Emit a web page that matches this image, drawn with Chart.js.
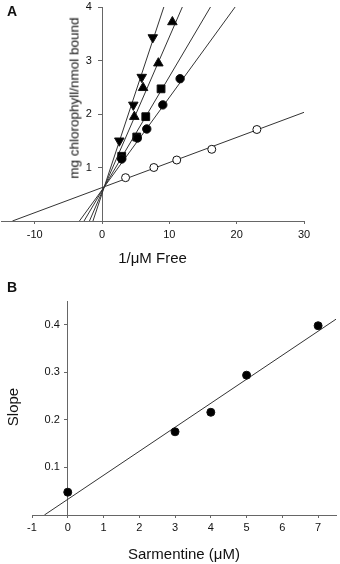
<!doctype html>
<html lang="en">

<head>
    <meta charset="utf-8">
    <title>Binding plots</title>
    <script src="https://cdn.jsdelivr.net/npm/chart.js"></script>
    <style>
        body { margin: 0; background: #fff; }
        #wrap { position: relative; width: 340px; height: 564px; font-family: "Liberation Sans", Arial, sans-serif; }
        #wrap canvas { position: absolute; left: 0; }
        .lbl { position: absolute; color: #111; white-space: nowrap; transform: translate(-50%, -50%); }
        .rot { transform: translate(-50%, -50%) rotate(-90deg); }
    </style>
</head>

<body>
    <div id="wrap">
        <canvas id="chartA" width="340" height="278" style="top:0"></canvas>
        <canvas id="chartB" width="340" height="284" style="top:280px"></canvas>
        <div class="lbl" style="left:12px;top:11px;font-weight:bold;font-size:14px">A</div>
        <div class="lbl" style="left:12px;top:287px;font-weight:bold;font-size:14px">B</div>
        <div class="lbl rot" style="left:74px;top:98px;font-size:13.5px">mg chlorophyll/nmol bound</div>
        <div class="lbl rot" style="left:12px;top:407px;font-size:15px">Slope</div>
    </div>
</body>
<script>
    // panel A : double reciprocal plot
    const ctrlX = [3.5, 7.7, 11.1, 16.3, 23.0];
    const ctrlY = [0.81, 1.0, 1.14, 1.34, 1.71];
    const circX = [2.93, 5.25, 6.65, 9.03, 11.6];
    const circY = [1.16, 1.55, 1.72, 2.17, 2.66];
    const sqX = [2.93, 5.16, 6.5, 8.77];
    const sqY = [1.21, 1.57, 1.95, 2.47];
    const upX = [4.8, 6.1, 8.37, 10.45];
    const upY = [1.95, 2.49, 2.95, 3.72];
    const downX = [2.57, 4.65, 5.9, 7.54];
    const downY = [1.5, 2.17, 2.69, 3.43];
    // fitted lines: [slope, intercept] for control, circles, squares, up, down
    const fitSlopeA = [0.0469, 0.173, 0.213, 0.29, 0.38];
    const fitIcptA = [0.624, 0.58, 0.568, 0.54, 0.51];
    const xTicksA = [-10, 0, 10, 20, 30];
    const yTicksA = [0, 1, 2, 3, 4];

    // panel B : secondary plot
    const sarm = [0, 3, 4, 5, 7];
    const slopeVals = [0.048, 0.175, 0.216, 0.294, 0.398];
    const fitB = [0.0505, 0.033];
    const xTicksB = [-1, 0, 1, 2, 3, 4, 5, 6, 7];
    const yTicksB = [0, 0.1, 0.2, 0.3, 0.4];

    const axisCol = '#666';
    const lineCol = '#333';
    const tickFont = { family: '"Liberation Sans", Arial, sans-serif', size: 11 };
    const titleFont = { family: '"Liberation Sans", Arial, sans-serif', size: 15 };

    let pts = (xs, ys) => xs.map((x, i) => ({ x: x, y: ys[i] }));

    let fitLine = (m, b, xmin, xmax, ymax) => {
        let x0 = Math.max(xmin, -b / m);
        let x1 = Math.min(xmax, (ymax - b) / m);
        return {
            type: 'line', data: [{ x: x0, y: m * x0 + b }, { x: x1, y: m * x1 + b }],
            borderColor: lineCol, borderWidth: 1, pointRadius: 0, showLine: true, order: 10
        };
    }

    let marks = (xs, ys, style, r, fill, rot) => ({
        data: pts(xs, ys), showLine: false, pointStyle: style, pointRadius: r,
        pointRotation: rot || 0, backgroundColor: fill, borderColor: '#111', borderWidth: 1, order: 1,
        clip: false
    });

    let setTicks = arr => scale => { scale.ticks = arr.map(v => ({ value: v })); };
    // keep the layout padding in charge of the plot box
    let flatX = h => s => { s.height = h; s.paddingLeft = 0; s.paddingRight = 0; };
    let flatY = s => { s.width = 0; s.paddingTop = 0; s.paddingBottom = 0; };

    const linesA = fitSlopeA.map((m, i) => fitLine(m, fitIcptA[i], -15, 30, 4));

    new Chart(document.getElementById('chartA'), {
        type: 'scatter',
        data: {
            datasets: linesA.concat([
                marks(ctrlX, ctrlY, 'circle', 4, '#fff'),
                marks(circX, circY, 'circle', 4.2, '#000'),
                marks(sqX, sqY, 'rect', 5.5, '#000'),
                marks(upX, upY, 'triangle', 5.5, '#000'),
                marks(downX, downY, 'triangle', 5.5, '#000', 180)
            ])
        },
        options: {
            responsive: false,
            animation: false,
            events: [],
            layout: { autoPadding: false, padding: { left: 1, right: 36, top: 7, bottom: 7 } },
            plugins: { legend: { display: false }, tooltip: { enabled: false } },
            scales: {
                x: {
                    type: 'linear', min: -15, max: 30, position: 'bottom',
                    afterBuildTicks: setTicks(xTicksA),
                    afterFit: flatX(50),
                    grid: { drawOnChartArea: false, tickLength: 3, color: axisCol },
                    border: { color: axisCol },
                    ticks: { font: tickFont, color: '#111', padding: 4, maxRotation: 0 },
                    title: { display: true, text: '1/\u03bcM Free', font: titleFont, color: '#111', padding: { top: 0, bottom: 3 } }
                },
                y: {
                    type: 'linear', min: 0, max: 4, position: { x: 0 },
                    afterBuildTicks: setTicks(yTicksA),
                    afterFit: flatY,
                    grid: { drawOnChartArea: false, tickLength: 4, color: axisCol },
                    border: { color: axisCol },
                    ticks: { display: false }
                },
                yl: {
                    type: 'linear', min: 0, max: 4, position: { x: -1.5 },
                    afterBuildTicks: setTicks(yTicksA),
                    afterFit: flatY,
                    grid: { display: false },
                    border: { display: false },
                    ticks: { font: tickFont, color: '#111', callback: v => v === 0 ? '' : v }
                }
            }
        }
    });

    new Chart(document.getElementById('chartB'), {
        type: 'scatter',
        data: {
            datasets: [
                fitLine(fitB[0], fitB[1], -1, 7.5, 0.45),
                marks(sarm, slopeVals, 'circle', 4, '#000')
            ]
        },
        options: {
            responsive: false,
            animation: false,
            events: [],
            layout: { autoPadding: false, padding: { left: 32, right: 4, top: 21, bottom: 0 } },
            plugins: { legend: { display: false }, tooltip: { enabled: false } },
            scales: {
                x: {
                    type: 'linear', min: -1, max: 7.5, position: 'bottom',
                    afterBuildTicks: setTicks(xTicksB),
                    afterFit: flatX(49),
                    grid: { drawOnChartArea: false, tickLength: 3, color: axisCol },
                    border: { color: axisCol },
                    ticks: { font: tickFont, color: '#111', padding: 3, maxRotation: 0 },
                    title: { display: true, text: 'Sarmentine (\u03bcM)', font: titleFont, color: '#111', padding: { top: 0, bottom: 0 } }
                },
                y: {
                    type: 'linear', min: 0, max: 0.45, position: { x: 0 },
                    afterBuildTicks: setTicks(yTicksB),
                    afterFit: flatY,
                    grid: { drawOnChartArea: false, tickLength: 3, color: axisCol },
                    border: { color: axisCol },
                    ticks: { display: false }
                },
                yl: {
                    type: 'linear', min: 0, max: 0.45, position: { x: -0.22 },
                    afterBuildTicks: setTicks(yTicksB),
                    afterFit: flatY,
                    grid: { display: false },
                    border: { display: false },
                    ticks: { font: tickFont, color: '#111', callback: v => v === 0 ? '' : v.toFixed(1) }
                }
            }
        }
    });
</script>

</html>
